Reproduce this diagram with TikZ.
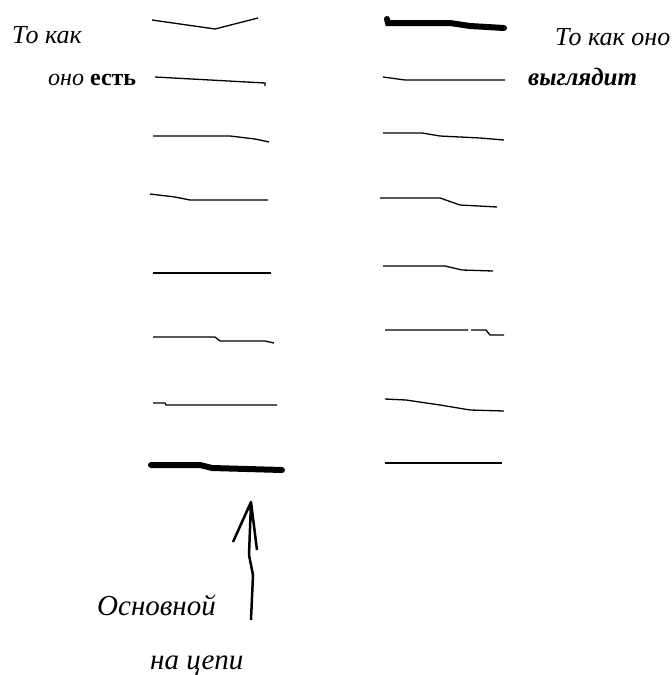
\documentclass[tikz,border=0pt]{standalone}
\usepackage{fontspec}
\setmainfont{Liberation Serif}

\begin{document}
\begin{tikzpicture}[x=1pt, y=-1pt,
    stroke/.style={line width=1.3pt},
    heavy/.style={line width=6pt, line cap=round},
    note/.style={anchor=base west, inner sep=0pt, font=\itshape\fontsize{26}{28}\selectfont}]
                \useasboundingbox (0,0) rectangle (672,675);
                % left column: how it is
                \draw [stroke] (152,20) -- (215,29) -- (258,18);
                \draw [stroke] (155,77) -- (210,80) -- (265,83) -- (265,86);
                \draw [stroke] (153,136) -- (230,136) -- (255,139) -- (269,142);
                \draw [stroke] (150,194) -- (175,197) -- (190,200) -- (268,200);
                \draw [stroke] (153,273) -- (271,273);
                \draw [stroke] (153,337) -- (215,337) -- (220,341) -- (265,341) -- (274,343);
                \draw [stroke] (153,403) -- (165,403) -- (166,405) -- (277,405);
                \draw [heavy] (151,465) -- (200,465) -- (212,468) -- (282,470);
                % right column: how it looks
                \draw [heavy] (387,19) -- (388,23) -- (450,23) -- (470,26) -- (504,28);
                \draw [stroke] (383,77) -- (405,80) -- (505,80);
                \draw [stroke] (383,133) -- (422,133) -- (440,136) -- (480,138) -- (504,140);
                \draw [stroke] (380,198) -- (440,198) -- (460,205) -- (497,207);
                \draw [stroke] (383,266) -- (445,266) -- (462,270) -- (493,271);
                \draw [stroke] (385,330) -- (468,330) (471,330) -- (486,330) -- (490,335) -- (504,335);
                \draw [stroke] (385,399) -- (406,400) -- (440,405) -- (470,410) -- (504,411);
                \draw [stroke] (385,463) -- (502,463);
                % labels
                \node[note] (is1) at (12,43) {То как};
                \node[note, font=\fontsize{24}{26}\selectfont] (is2) at (48,85) {\textit{оно} \textbf{есть}};
                \node[note] (looks1) at (555,45) {То как оно};
                \node[note, font=\bfseries\itshape\fontsize{25}{27}\selectfont] (looks2) at (528,85) {выглядит};
                \node[note, font=\itshape\fontsize{29}{31}\selectfont] (main1) at (97,615) {Основной};
                \node[note, font=\itshape\fontsize{29}{31}\selectfont] (main2) at (150,669) {на цепи};
                % arrow up to the main chain
                \coordinate (tip) at (251,502);
                \coordinate (tail) at (251,620);
                \draw [line width=2.5pt, line join=round]
                    (tail) -- (253,575) -- (249,555) -- (tip)
                    (233,542) -- (tip) -- (257,550);
            \end{tikzpicture}
\end{document}
